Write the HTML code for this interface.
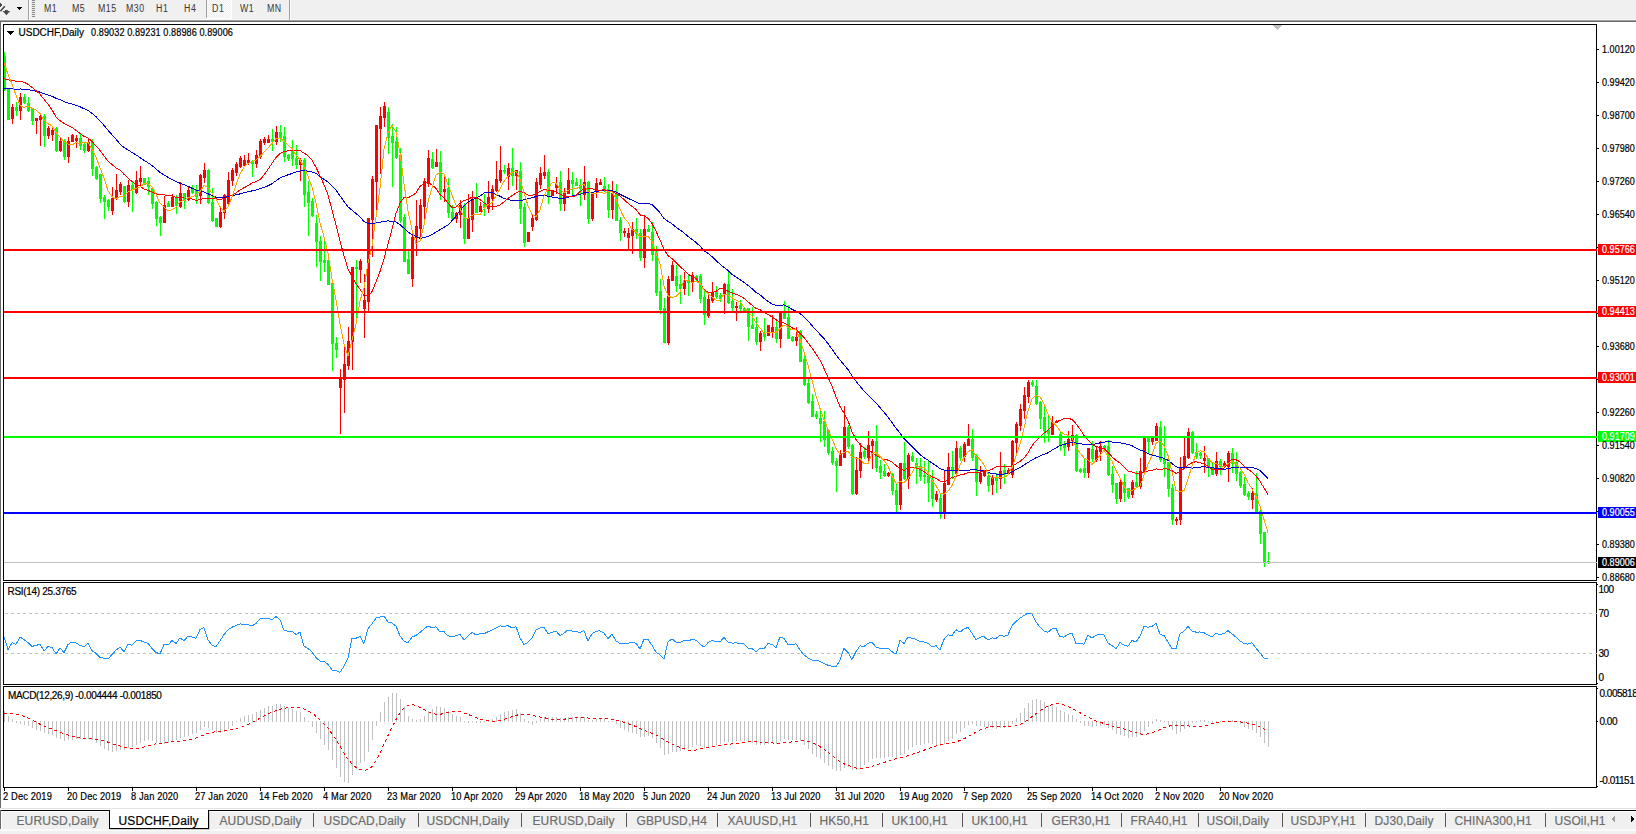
<!DOCTYPE html><html><head><meta charset="utf-8"><title>USDCHF,Daily</title><style>
*{margin:0;padding:0;box-sizing:border-box}
html,body{width:1636px;height:834px;overflow:hidden;background:#fff}
body{position:relative;font-family:"Liberation Sans",Arial,sans-serif;}
.a{position:absolute;white-space:nowrap;-webkit-text-stroke:0.2px currentColor}
.tb{font-size:11px;color:#3c3c3c;top:4px;letter-spacing:-0.2px}
.pl{font-size:9.6px;letter-spacing:-0.3px;color:#000;left:1602px;line-height:10px}
.dl{font-size:9.6px;letter-spacing:-0.25px;color:#000;top:791px;line-height:10px}
.tab{font-size:12px;color:#6e6e6e;top:812px;line-height:14px;letter-spacing:-0.1px}
svg{position:absolute;left:0;top:0}
</style></head><body><svg width="1636" height="834" viewBox="0 0 1636 834" shape-rendering="crispEdges"><rect x="0" y="0" width="1636" height="20" fill="#f0f0f0"/><rect x="0" y="19" width="1636" height="1" fill="#f7f7f7"/><rect x="0" y="20" width="1636" height="1" fill="#a0a0a0"/><rect x="0" y="21" width="1636" height="1" fill="#696969"/><rect x="28" y="0" width="1" height="20" fill="#a0a0a0"/><rect x="29" y="0" width="1" height="20" fill="#ffffff"/><rect x="32" y="0" width="3" height="1" fill="#888"/><rect x="32" y="2" width="3" height="1" fill="#888"/><rect x="32" y="4" width="3" height="1" fill="#888"/><rect x="32" y="6" width="3" height="1" fill="#888"/><rect x="32" y="8" width="3" height="1" fill="#888"/><rect x="32" y="10" width="3" height="1" fill="#888"/><rect x="32" y="12" width="3" height="1" fill="#888"/><rect x="32" y="14" width="3" height="1" fill="#888"/><rect x="32" y="16" width="3" height="1" fill="#888"/><rect x="289" y="0" width="1" height="20" fill="#a0a0a0"/><rect x="290" y="0" width="1" height="20" fill="#ffffff"/><defs><pattern id="ck" width="2" height="2" patternUnits="userSpaceOnUse"><rect width="2" height="2" fill="#ececec"/><rect width="1" height="1" fill="#fff"/><rect x="1" y="1" width="1" height="1" fill="#fff"/></pattern></defs><rect x="207" y="0" width="24" height="18" fill="url(#ck)"/><rect x="206" y="0" width="1" height="18" fill="#a0a0a0"/><rect x="231" y="0" width="1" height="19" fill="#fff"/><rect x="206" y="18" width="26" height="1" fill="#fff"/><path d="M0 2.5L3 5.2L0 7Z" fill="#4a4a4a"/><path d="M4.8 6.2L0.4 11.2" stroke="#404040" stroke-width="1.4" fill="none" shape-rendering="auto"/><path d="M5 10h2.8v1h2.4l-3.8 4.2l-3.8-4.2h2.4z" fill="#4a4a4a" shape-rendering="auto"/><path d="M17 7h5l-2.5 3z" fill="#000"/><rect x="0" y="22" width="1" height="786" fill="#6a6a6a"/><rect x="0" y="0" width="3" height="834" fill="none"/><rect x="3" y="24" width="1594" height="1" fill="#000"/><rect x="3" y="580" width="1594" height="1" fill="#000"/><rect x="3" y="24" width="1" height="557" fill="#000"/><rect x="1596" y="24" width="1" height="557" fill="#000"/><rect x="3" y="582" width="1594" height="1" fill="#000"/><rect x="3" y="684" width="1594" height="1" fill="#000"/><rect x="3" y="582" width="1" height="103" fill="#000"/><rect x="1596" y="582" width="1" height="103" fill="#000"/><rect x="3" y="686" width="1594" height="1" fill="#000"/><rect x="3" y="787" width="1594" height="1" fill="#000"/><rect x="3" y="686" width="1" height="102" fill="#000"/><rect x="1596" y="686" width="1" height="102" fill="#000"/><path d="M4 52h1v4h-1zM4 90h1v1h-1zM4 56h2v34h-2zM7 88h3v32h-3zM16 102h1v5h-1zM16 111h1v5h-1zM15 107h3v4h-3zM24 94h1v3h-1zM24 103h1v1h-1zM23 97h3v6h-3zM28 97h1v6h-1zM28 111h1v1h-1zM27 103h3v8h-3zM32 108h1v1h-1zM32 121h1v4h-1zM31 109h3v12h-3zM44 114h1v2h-1zM44 136h1v11h-1zM43 116h3v20h-3zM56 127h1v1h-1zM56 151h1v1h-1zM55 128h3v23h-3zM64 139h1v2h-1zM64 157h1v3h-1zM63 141h3v16h-3zM80 134h1v4h-1zM80 146h1v4h-1zM79 138h3v8h-3zM84 143h1v1h-1zM84 151h1v2h-1zM83 144h3v7h-3zM92 139h1v3h-1zM92 169h1v7h-1zM91 142h3v27h-3zM96 166h1v1h-1zM96 179h1v1h-1zM95 167h3v12h-3zM100 199h1v4h-1zM99 174h3v25h-3zM104 195h1v2h-1zM104 202h1v17h-1zM103 197h3v5h-3zM108 199h1v1h-1zM108 207h1v4h-1zM107 200h3v7h-3zM124 202h1v1h-1zM123 186h3v16h-3zM132 182h1v3h-1zM132 190h1v22h-1zM131 185h3v5h-3zM143 178h3v7h-3zM148 177h1v4h-1zM148 187h1v8h-1zM147 181h3v6h-3zM152 204h1v5h-1zM151 188h3v16h-3zM156 201h1v1h-1zM156 219h1v7h-1zM155 202h3v17h-3zM160 216h1v1h-1zM160 223h1v13h-1zM159 217h3v6h-3zM168 201h1v2h-1zM167 203h3v4h-3zM176 195h1v2h-1zM176 206h1v8h-1zM175 197h3v9h-3zM184 201h1v8h-1zM183 193h3v8h-3zM192 185h1v4h-1zM192 193h1v1h-1zM191 189h3v4h-3zM196 185h1v5h-1zM196 197h1v7h-1zM195 190h3v7h-3zM208 169h1v1h-1zM208 203h1v1h-1zM207 170h3v33h-3zM212 188h1v14h-1zM212 221h1v1h-1zM211 202h3v19h-3zM215 218h3v9h-3zM252 160h1v1h-1zM252 164h1v13h-1zM251 161h3v3h-3zM272 129h1v10h-1zM272 142h1v9h-1zM271 139h3v3h-3zM280 125h1v7h-1zM280 138h1v4h-1zM279 132h3v6h-3zM284 127h1v9h-1zM284 157h1v5h-1zM283 136h3v21h-3zM288 154h1v1h-1zM288 159h1v2h-1zM287 155h3v4h-3zM292 140h1v10h-1zM292 159h1v7h-1zM291 150h3v9h-3zM296 145h1v13h-1zM296 165h1v4h-1zM295 158h3v7h-3zM304 158h1v2h-1zM304 195h1v12h-1zM303 160h3v35h-3zM308 181h1v11h-1zM308 203h1v33h-1zM307 192h3v11h-3zM312 198h1v3h-1zM312 216h1v1h-1zM311 201h3v15h-3zM316 215h1v8h-1zM316 242h1v25h-1zM315 223h3v19h-3zM320 236h1v5h-1zM320 262h1v19h-1zM319 241h3v21h-3zM324 241h1v19h-1zM324 263h1v9h-1zM323 260h3v3h-3zM328 256h1v4h-1zM327 260h3v25h-3zM332 282h1v1h-1zM332 344h1v27h-1zM331 283h3v61h-3zM336 337h1v6h-1zM336 350h1v8h-1zM335 343h3v7h-3zM356 260h1v7h-1zM356 269h1v52h-1zM355 267h3v2h-3zM388 107h1v5h-1zM388 138h1v16h-1zM387 112h3v26h-3zM392 124h1v12h-1zM392 143h1v44h-1zM391 136h3v7h-3zM396 127h1v14h-1zM396 158h1v1h-1zM395 141h3v17h-3zM400 148h1v7h-1zM400 221h1v2h-1zM399 155h3v66h-3zM404 214h1v3h-1zM403 217h3v45h-3zM408 251h1v8h-1zM407 259h3v15h-3zM432 152h1v7h-1zM432 168h1v1h-1zM431 159h3v9h-3zM440 151h1v11h-1zM440 192h1v8h-1zM439 162h3v30h-3zM448 178h1v10h-1zM448 213h1v5h-1zM447 188h3v25h-3zM452 205h1v7h-1zM452 219h1v1h-1zM451 212h3v7h-3zM464 203h1v2h-1zM464 239h1v5h-1zM463 205h3v34h-3zM476 183h1v14h-1zM475 197h3v16h-3zM484 194h1v10h-1zM484 208h1v8h-1zM483 204h3v4h-3zM504 165h1v5h-1zM504 172h1v2h-1zM503 170h3v2h-3zM512 148h1v20h-1zM512 176h1v10h-1zM511 168h3v8h-3zM520 162h1v9h-1zM520 209h1v15h-1zM519 171h3v38h-3zM524 203h1v4h-1zM524 243h1v4h-1zM523 207h3v36h-3zM548 169h1v3h-1zM548 196h1v8h-1zM547 172h3v24h-3zM560 171h1v11h-1zM560 204h1v7h-1zM559 182h3v22h-3zM572 172h1v8h-1zM572 184h1v12h-1zM571 180h3v4h-3zM576 178h1v4h-1zM575 182h3v4h-3zM580 179h1v6h-1zM580 189h1v17h-1zM579 185h3v4h-3zM588 181h1v1h-1zM588 219h1v5h-1zM587 182h3v37h-3zM604 177h1v9h-1zM604 190h1v2h-1zM603 186h3v4h-3zM608 184h1v5h-1zM608 210h1v8h-1zM607 189h3v21h-3zM616 184h1v9h-1zM615 193h3v28h-3zM620 217h1v3h-1zM620 233h1v8h-1zM619 220h3v13h-3zM636 218h1v11h-1zM636 234h1v5h-1zM635 229h3v5h-3zM640 229h1v4h-1zM640 258h1v3h-1zM639 233h3v25h-3zM648 225h1v4h-1zM647 229h3v3h-3zM652 222h1v10h-1zM652 255h1v6h-1zM651 232h3v23h-3zM656 246h1v7h-1zM656 293h1v3h-1zM655 253h3v40h-3zM660 279h1v12h-1zM660 310h1v4h-1zM659 291h3v19h-3zM664 298h1v10h-1zM663 308h3v35h-3zM676 265h1v11h-1zM676 286h1v6h-1zM675 276h3v10h-3zM680 275h1v9h-1zM680 289h1v15h-1zM679 284h3v5h-3zM688 274h1v6h-1zM688 283h1v13h-1zM687 280h3v3h-3zM696 275h1v1h-1zM696 280h1v1h-1zM695 276h3v4h-3zM700 274h1v2h-1zM700 299h1v4h-1zM699 276h3v23h-3zM704 290h1v7h-1zM704 315h1v10h-1zM703 297h3v18h-3zM716 286h1v5h-1zM716 297h1v2h-1zM715 291h3v6h-3zM720 293h1v2h-1zM720 299h1v3h-1zM719 295h3v4h-3zM728 271h1v13h-1zM728 303h1v1h-1zM727 284h3v19h-3zM732 289h1v12h-1zM732 308h1v3h-1zM731 301h3v7h-3zM740 300h1v5h-1zM740 309h1v2h-1zM739 305h3v4h-3zM743 308h3v3h-3zM748 327h1v14h-1zM747 308h3v19h-3zM752 307h1v18h-1zM751 325h3v4h-3zM756 317h1v10h-1zM756 342h1v3h-1zM755 327h3v15h-3zM764 318h1v15h-1zM764 337h1v4h-1zM763 333h3v4h-3zM776 320h1v7h-1zM776 339h1v4h-1zM775 327h3v12h-3zM784 301h1v12h-1zM783 313h3v6h-3zM788 305h1v12h-1zM787 317h3v22h-3zM792 336h1v1h-1zM792 341h1v1h-1zM791 337h3v4h-3zM800 330h1v1h-1zM799 331h3v31h-3zM804 354h1v5h-1zM804 385h1v1h-1zM803 359h3v26h-3zM808 379h1v4h-1zM808 403h1v1h-1zM807 383h3v20h-3zM812 394h1v7h-1zM811 401h3v16h-3zM816 411h1v3h-1zM816 417h1v2h-1zM815 414h3v3h-3zM820 410h1v8h-1zM820 424h1v18h-1zM819 418h3v6h-3zM824 411h1v10h-1zM824 440h1v7h-1zM823 421h3v19h-3zM828 453h1v2h-1zM827 430h3v23h-3zM832 447h1v4h-1zM832 463h1v2h-1zM831 451h3v12h-3zM836 458h1v3h-1zM836 466h1v26h-1zM835 461h3v5h-3zM848 425h1v2h-1zM848 447h1v2h-1zM847 427h3v20h-3zM852 444h1v1h-1zM852 494h1v1h-1zM851 445h3v49h-3zM864 447h1v4h-1zM864 457h1v2h-1zM863 451h3v6h-3zM876 425h1v16h-1zM876 468h1v4h-1zM875 441h3v27h-3zM880 460h1v6h-1zM880 473h1v6h-1zM879 466h3v7h-3zM884 464h1v7h-1zM884 476h1v1h-1zM883 471h3v5h-3zM892 473h1v1h-1zM892 491h1v4h-1zM891 474h3v17h-3zM896 484h1v6h-1zM896 505h1v8h-1zM895 490h3v15h-3zM904 442h1v21h-1zM904 479h1v1h-1zM903 463h3v16h-3zM912 452h1v4h-1zM912 461h1v1h-1zM911 456h3v5h-3zM916 458h1v5h-1zM916 466h1v18h-1zM915 463h3v3h-3zM920 458h1v8h-1zM920 477h1v4h-1zM919 466h3v11h-3zM924 461h1v14h-1zM924 477h1v7h-1zM923 475h3v2h-3zM928 460h1v16h-1zM928 483h1v19h-1zM927 476h3v7h-3zM932 470h1v10h-1zM932 499h1v8h-1zM931 480h3v19h-3zM940 494h1v4h-1zM940 513h1v6h-1zM939 498h3v15h-3zM952 451h1v16h-1zM952 470h1v9h-1zM951 467h3v3h-3zM960 446h1v2h-1zM960 458h1v3h-1zM959 448h3v10h-3zM972 429h1v10h-1zM972 458h1v3h-1zM971 439h3v19h-3zM976 454h1v2h-1zM976 482h1v14h-1zM975 456h3v26h-3zM988 473h1v3h-1zM988 486h1v6h-1zM987 476h3v10h-3zM996 473h1v5h-1zM996 481h1v12h-1zM995 478h3v3h-3zM1004 464h1v6h-1zM1004 474h1v10h-1zM1003 470h3v4h-3zM1032 380h1v2h-1zM1032 385h1v2h-1zM1031 382h3v3h-3zM1036 380h1v6h-1zM1036 404h1v1h-1zM1035 386h3v18h-3zM1040 401h1v1h-1zM1040 419h1v10h-1zM1039 402h3v17h-3zM1044 404h1v13h-1zM1044 431h1v12h-1zM1043 417h3v14h-3zM1048 415h1v15h-1zM1048 434h1v8h-1zM1047 430h3v4h-3zM1060 431h1v3h-1zM1060 446h1v5h-1zM1059 434h3v12h-3zM1064 441h1v3h-1zM1064 448h1v8h-1zM1063 444h3v4h-3zM1076 434h1v1h-1zM1076 471h1v1h-1zM1075 435h3v36h-3zM1080 468h1v1h-1zM1080 472h1v1h-1zM1079 469h3v3h-3zM1084 459h1v9h-1zM1084 473h1v5h-1zM1083 468h3v5h-3zM1092 441h1v8h-1zM1092 459h1v3h-1zM1091 449h3v10h-3zM1104 445h1v1h-1zM1104 449h1v1h-1zM1103 446h3v3h-3zM1108 440h1v6h-1zM1108 475h1v1h-1zM1107 446h3v29h-3zM1112 466h1v8h-1zM1112 485h1v8h-1zM1111 474h3v11h-3zM1116 499h1v5h-1zM1115 483h3v16h-3zM1124 474h1v8h-1zM1124 493h1v9h-1zM1123 482h3v11h-3zM1128 497h1v2h-1zM1127 488h3v9h-3zM1136 471h1v11h-1zM1135 482h3v5h-3zM1148 442h1v11h-1zM1147 438h3v4h-3zM1160 421h1v6h-1zM1160 460h1v2h-1zM1159 427h3v33h-3zM1164 426h1v33h-1zM1164 464h1v13h-1zM1163 459h3v5h-3zM1168 489h1v8h-1zM1167 462h3v27h-3zM1172 484h1v4h-1zM1172 520h1v5h-1zM1171 488h3v32h-3zM1192 431h1v1h-1zM1192 453h1v1h-1zM1191 432h3v21h-3zM1196 443h1v9h-1zM1196 457h1v2h-1zM1195 452h3v5h-3zM1200 452h1v1h-1zM1200 456h1v3h-1zM1199 453h3v3h-3zM1208 468h1v9h-1zM1207 458h3v10h-3zM1212 462h1v5h-1zM1211 467h3v8h-3zM1220 459h1v2h-1zM1220 467h1v8h-1zM1219 461h3v6h-3zM1232 448h1v5h-1zM1232 464h1v9h-1zM1231 453h3v11h-3zM1236 452h1v10h-1zM1236 474h1v7h-1zM1235 462h3v12h-3zM1240 471h1v1h-1zM1240 486h1v2h-1zM1239 472h3v14h-3zM1244 477h1v7h-1zM1244 495h1v1h-1zM1243 484h3v11h-3zM1248 491h1v2h-1zM1248 497h1v3h-1zM1247 493h3v4h-3zM1256 473h1v20h-1zM1255 493h3v20h-3zM1260 510h1v1h-1zM1260 534h1v10h-1zM1259 511h3v23h-3zM1264 562h1v5h-1zM1263 532h3v30h-3zM1268 552h1v9h-1zM1268 563h1v1h-1zM1267 561h3v2h-3z" fill="#00ff00"/><path d="M12 104h1v3h-1zM12 119h1v5h-1zM11 107h3v12h-3zM20 93h1v4h-1zM20 111h1v9h-1zM19 97h3v14h-3zM36 121h1v13h-1zM35 118h3v3h-3zM40 114h1v2h-1zM40 120h1v26h-1zM39 116h3v4h-3zM48 126h1v2h-1zM48 136h1v3h-1zM47 128h3v8h-3zM52 127h1v3h-1zM52 135h1v6h-1zM51 130h3v5h-3zM60 138h1v3h-1zM60 151h1v1h-1zM59 141h3v10h-3zM68 137h1v4h-1zM68 157h1v6h-1zM67 141h3v16h-3zM72 134h1v1h-1zM71 135h3v7h-3zM76 135h1v3h-1zM76 141h1v7h-1zM75 138h3v3h-3zM88 139h1v3h-1zM88 151h1v1h-1zM87 142h3v9h-3zM112 187h1v11h-1zM112 211h1v4h-1zM111 198h3v13h-3zM116 174h1v16h-1zM116 199h1v1h-1zM115 190h3v9h-3zM120 182h1v2h-1zM120 192h1v3h-1zM119 184h3v8h-3zM128 180h1v5h-1zM128 202h1v5h-1zM127 185h3v17h-3zM136 171h1v9h-1zM136 193h1v1h-1zM135 180h3v13h-3zM140 166h1v12h-1zM140 182h1v4h-1zM139 178h3v4h-3zM164 196h1v9h-1zM163 205h3v18h-3zM172 194h1v3h-1zM171 197h3v10h-3zM180 182h1v11h-1zM180 207h1v1h-1zM179 193h3v14h-3zM188 187h1v3h-1zM188 200h1v1h-1zM187 190h3v10h-3zM200 174h1v1h-1zM200 196h1v8h-1zM199 175h3v21h-3zM204 163h1v7h-1zM204 178h1v5h-1zM203 170h3v8h-3zM220 207h1v5h-1zM220 227h1v1h-1zM219 212h3v15h-3zM224 194h1v1h-1zM224 213h1v6h-1zM223 195h3v18h-3zM228 172h1v8h-1zM228 204h1v1h-1zM227 180h3v24h-3zM232 168h1v2h-1zM232 181h1v5h-1zM231 170h3v11h-3zM236 162h1v2h-1zM236 173h1v3h-1zM235 164h3v9h-3zM240 156h1v2h-1zM240 167h1v1h-1zM239 158h3v9h-3zM244 155h1v5h-1zM243 160h3v6h-3zM248 153h1v7h-1zM248 163h1v2h-1zM247 160h3v3h-3zM256 150h1v5h-1zM256 164h1v4h-1zM255 155h3v9h-3zM260 139h1v2h-1zM260 157h1v2h-1zM259 141h3v16h-3zM264 137h1v2h-1zM264 143h1v2h-1zM263 139h3v4h-3zM268 135h1v4h-1zM267 139h3v4h-3zM276 126h1v6h-1zM276 142h1v3h-1zM275 132h3v10h-3zM300 158h1v2h-1zM300 165h1v16h-1zM299 160h3v5h-3zM340 369h1v10h-1zM340 388h1v46h-1zM339 379h3v9h-3zM344 346h1v18h-1zM344 380h1v33h-1zM343 364h3v16h-3zM348 327h1v14h-1zM348 366h1v4h-1zM347 341h3v25h-3zM352 342h1v28h-1zM351 267h3v75h-3zM360 259h1v2h-1zM360 270h1v13h-1zM359 261h3v9h-3zM364 274h1v26h-1zM364 309h1v29h-1zM363 300h3v9h-3zM368 302h1v11h-1zM367 218h3v84h-3zM372 176h1v3h-1zM372 220h1v37h-1zM371 179h3v41h-3zM376 182h1v33h-1zM375 125h3v57h-3zM380 107h1v9h-1zM380 129h1v45h-1zM379 116h3v13h-3zM384 102h1v4h-1zM384 118h1v9h-1zM383 106h3v12h-3zM412 235h1v2h-1zM412 279h1v8h-1zM411 237h3v42h-3zM416 200h1v26h-1zM416 238h1v18h-1zM415 226h3v12h-3zM420 199h1v6h-1zM420 229h1v10h-1zM419 205h3v24h-3zM424 178h1v3h-1zM424 207h1v12h-1zM423 181h3v26h-3zM428 150h1v8h-1zM428 184h1v3h-1zM427 158h3v26h-3zM436 149h1v13h-1zM435 162h3v5h-3zM444 175h1v14h-1zM444 192h1v10h-1zM443 189h3v3h-3zM456 212h1v1h-1zM456 219h1v4h-1zM455 213h3v6h-3zM460 200h1v5h-1zM460 215h1v13h-1zM459 205h3v10h-3zM468 194h1v24h-1zM467 218h3v21h-3zM472 191h1v8h-1zM472 220h1v12h-1zM471 199h3v21h-3zM480 202h1v4h-1zM479 206h3v6h-3zM488 181h1v16h-1zM488 209h1v4h-1zM487 197h3v12h-3zM492 185h1v4h-1zM492 199h1v11h-1zM491 189h3v10h-3zM496 161h1v18h-1zM496 191h1v1h-1zM495 179h3v12h-3zM500 146h1v24h-1zM500 181h1v2h-1zM499 170h3v11h-3zM508 163h1v5h-1zM508 177h1v13h-1zM507 168h3v9h-3zM516 176h1v14h-1zM515 170h3v6h-3zM527 232h3v10h-3zM532 215h1v3h-1zM532 227h1v4h-1zM531 218h3v9h-3zM536 178h1v4h-1zM536 220h1v1h-1zM535 182h3v38h-3zM540 167h1v6h-1zM540 185h1v4h-1zM539 173h3v12h-3zM544 155h1v17h-1zM544 176h1v3h-1zM543 172h3v4h-3zM551 190h3v6h-3zM556 177h1v7h-1zM556 188h1v6h-1zM555 184h3v4h-3zM564 188h1v5h-1zM564 204h1v7h-1zM563 193h3v11h-3zM568 168h1v12h-1zM567 180h3v14h-3zM584 166h1v16h-1zM584 195h1v5h-1zM583 182h3v13h-3zM592 192h1v1h-1zM592 219h1v2h-1zM591 193h3v26h-3zM596 178h1v5h-1zM596 191h1v7h-1zM595 183h3v8h-3zM600 179h1v3h-1zM599 182h3v3h-3zM612 181h1v12h-1zM612 210h1v9h-1zM611 193h3v17h-3zM624 228h1v3h-1zM624 233h1v4h-1zM623 231h3v2h-3zM628 228h1v5h-1zM628 238h1v12h-1zM627 233h3v5h-3zM632 222h1v7h-1zM632 236h1v18h-1zM631 229h3v7h-3zM644 217h1v12h-1zM644 258h1v10h-1zM643 229h3v29h-3zM668 276h1v3h-1zM668 343h1v2h-1zM667 279h3v64h-3zM672 261h1v4h-1zM671 265h3v16h-3zM684 272h1v8h-1zM684 289h1v6h-1zM683 280h3v9h-3zM692 272h1v3h-1zM692 282h1v10h-1zM691 275h3v7h-3zM708 293h1v6h-1zM708 316h1v2h-1zM707 299h3v17h-3zM712 282h1v10h-1zM712 301h1v2h-1zM711 292h3v9h-3zM724 283h1v1h-1zM724 294h1v20h-1zM723 284h3v10h-3zM736 302h1v4h-1zM736 308h1v13h-1zM735 306h3v2h-3zM760 331h1v2h-1zM760 342h1v9h-1zM759 333h3v9h-3zM767 325h3v11h-3zM772 315h1v12h-1zM772 332h1v6h-1zM771 327h3v5h-3zM780 339h1v9h-1zM779 313h3v26h-3zM796 327h1v10h-1zM796 341h1v5h-1zM795 337h3v4h-3zM840 450h1v3h-1zM839 453h3v13h-3zM844 406h1v21h-1zM843 427h3v31h-3zM856 457h1v13h-1zM856 494h1v1h-1zM855 470h3v24h-3zM860 443h1v9h-1zM860 471h1v7h-1zM859 452h3v19h-3zM868 431h1v14h-1zM868 458h1v4h-1zM867 445h3v13h-3zM872 439h1v2h-1zM872 446h1v23h-1zM871 441h3v5h-3zM888 472h1v1h-1zM888 476h1v1h-1zM887 473h3v3h-3zM900 505h1v5h-1zM899 463h3v42h-3zM908 453h1v2h-1zM908 479h1v10h-1zM907 455h3v24h-3zM936 491h1v3h-1zM936 500h1v2h-1zM935 494h3v6h-3zM944 470h1v13h-1zM944 513h1v6h-1zM943 483h3v30h-3zM948 453h1v14h-1zM947 467h3v18h-3zM956 441h1v7h-1zM956 474h1v3h-1zM955 448h3v26h-3zM964 442h1v2h-1zM964 457h1v5h-1zM963 444h3v13h-3zM968 424h1v15h-1zM967 439h3v7h-3zM980 466h1v7h-1zM980 482h1v2h-1zM979 473h3v9h-3zM984 476h1v1h-1zM983 470h3v6h-3zM992 475h1v3h-1zM992 485h1v10h-1zM991 478h3v7h-3zM1000 452h1v19h-1zM1000 479h1v10h-1zM999 471h3v8h-3zM1008 468h1v2h-1zM1007 470h3v4h-3zM1012 440h1v1h-1zM1012 475h1v3h-1zM1011 441h3v34h-3zM1016 422h1v2h-1zM1016 443h1v12h-1zM1015 424h3v19h-3zM1020 404h1v5h-1zM1020 426h1v5h-1zM1019 409h3v17h-3zM1024 387h1v8h-1zM1024 411h1v8h-1zM1023 395h3v16h-3zM1028 380h1v2h-1zM1028 397h1v6h-1zM1027 382h3v15h-3zM1052 416h1v6h-1zM1051 422h3v13h-3zM1056 420h1v1h-1zM1055 421h3v2h-3zM1068 431h1v8h-1zM1068 447h1v4h-1zM1067 439h3v8h-3zM1072 425h1v10h-1zM1072 441h1v5h-1zM1071 435h3v6h-3zM1088 473h1v5h-1zM1087 448h3v25h-3zM1096 447h1v3h-1zM1096 460h1v2h-1zM1095 450h3v10h-3zM1100 441h1v5h-1zM1100 452h1v9h-1zM1099 446h3v6h-3zM1120 479h1v3h-1zM1120 499h1v3h-1zM1119 482h3v17h-3zM1132 480h1v2h-1zM1132 495h1v3h-1zM1131 482h3v13h-3zM1140 458h1v13h-1zM1140 487h1v2h-1zM1139 471h3v16h-3zM1143 438h3v35h-3zM1152 437h1v1h-1zM1152 442h1v3h-1zM1151 438h3v4h-3zM1156 423h1v3h-1zM1155 426h3v15h-3zM1176 517h1v2h-1zM1176 521h1v4h-1zM1175 519h3v2h-3zM1180 457h1v10h-1zM1180 520h1v5h-1zM1179 467h3v53h-3zM1184 438h1v18h-1zM1183 456h3v12h-3zM1188 428h1v4h-1zM1188 458h1v1h-1zM1187 432h3v26h-3zM1204 446h1v12h-1zM1204 461h1v12h-1zM1203 458h3v3h-3zM1216 452h1v9h-1zM1216 474h1v2h-1zM1215 461h3v13h-3zM1224 461h1v2h-1zM1224 467h1v1h-1zM1223 463h3v4h-3zM1228 451h1v2h-1zM1228 467h1v15h-1zM1227 453h3v14h-3zM1252 488h1v5h-1zM1252 500h1v9h-1zM1251 493h3v7h-3z" fill="#ff0000"/><polyline points="4,88.1 8,88.7 12,88.9 16,89.2 20,89 24,89.1 28,89.6 32,90.4 36,91.3 40,92.1 44,93.7 48,94.9 52,96.3 56,98.2 60,99.7 64,101.6 68,103 72,104.1 76,105.3 80,106.8 84,108.7 88,110.5 92,113.3 96,116.7 100,120.9 104,125.4 108,130.2 112,134.8 116,139.3 120,143.9 124,147.6 128,149.8 132,152.5 136,154.8 140,157.6 144,160.3 148,162.8 152,165.6 156,168.9 160,172.5 164,174.8 168,177.4 172,179.6 176,181.4 180,183.2 184,184.7 188,186.3 192,188.2 196,190.2 200,191.2 204,191.9 208,193.8 212,195.6 216,197.2 220,197.6 224,197.4 228,196.6 232,195.6 236,194.8 240,193.9 244,192.6 248,191.8 252,190.9 256,190.1 260,188.8 264,187.3 268,185.8 272,183.7 276,180.8 280,178 284,176.3 288,174.8 292,173.5 296,172.1 300,171 304,170.8 308,171.1 312,171.9 316,173.4 320,176.3 324,179.3 328,182 332,186.2 336,190.2 340,195.8 344,201.4 348,206.8 352,210.1 356,213.5 360,216.9 364,221.6 368,223.5 372,224 376,223 380,222.2 384,221.1 388,221 392,221.1 396,221.9 400,224.7 404,228.2 408,232 412,234.6 416,236.7 420,238.2 424,237.8 428,236.3 432,234.7 436,232.1 440,229.7 444,227.3 448,224.9 452,220.7 456,216.2 460,210.4 464,206.2 468,202.1 472,199.8 476,198 480,196.1 484,193 488,192.3 492,192.6 496,194.4 500,196.2 504,198.4 508,199.4 512,200.5 516,201 520,200.6 524,199.9 528,198.6 532,197.9 536,196.5 540,195.4 544,195.1 548,196.3 552,197.1 556,197.8 560,198.2 564,198.4 568,197.3 572,196.1 576,195.1 580,194.6 584,192.7 588,192.7 592,192.5 596,191.6 600,190.8 604,190.2 608,190.6 612,190.7 616,192.1 620,194.2 624,196.2 628,198.3 632,200.1 636,202.2 640,203.9 644,203.5 648,203.4 652,204.6 656,208.3 660,212.8 664,218.5 668,221.3 672,223.8 676,227.2 680,230 684,232.9 688,236.3 692,239.4 696,242.5 700,246.2 704,250.6 708,253.3 712,256.6 716,260.4 720,264.2 724,267.4 728,270.5 732,274.3 736,277.1 740,279.7 744,282.3 748,285.4 752,288.7 756,292.3 760,294.8 764,298.4 768,301.5 772,304 776,305.5 780,305.6 784,304.9 788,306.8 792,309.3 796,311.1 800,313.5 804,316.9 808,320.9 812,325.6 816,330.2 820,334.3 824,338.5 828,343.6 832,349.2 836,354.9 840,360.1 844,364.8 848,369.6 852,375.8 856,381.3 860,386.1 864,391 868,394.9 872,398.7 876,402.9 880,407.5 884,412.2 888,417.1 892,422.6 896,428.1 900,433.1 904,438.4 908,442.4 912,446.4 916,450.6 920,454.5 924,457.6 928,460.2 932,463 936,465.6 940,468.6 944,470 948,470.5 952,470.8 956,470.2 960,470.4 964,470.9 968,470.7 972,469.5 976,469.8 980,470.5 984,471 988,472.4 992,473.6 996,474 1000,474 1004,474 1008,473.8 1012,472.2 1016,469.5 1020,467.7 1024,464.9 1028,462.5 1032,459.9 1036,457.8 1040,455.9 1044,454.4 1048,452.8 1052,450.2 1056,447.8 1060,445.6 1064,444.4 1068,443.4 1072,442.3 1076,443 1080,443.5 1084,444.4 1088,444.8 1092,444.8 1096,443.8 1100,442.9 1104,442.1 1108,441.8 1112,442 1116,442.6 1120,442.9 1124,443.5 1128,444.4 1132,445.8 1136,447.9 1140,450 1144,451.4 1148,453.4 1152,455.2 1156,455.9 1160,457.3 1164,458.4 1168,460.2 1172,463.5 1176,466.8 1180,467.5 1184,467.8 1188,467.6 1192,468.1 1196,467.7 1200,467.1 1204,466.7 1208,467.3 1212,467.8 1216,468.2 1220,468.8 1224,469.3 1228,468.6 1232,467.9 1236,467.1 1240,467.2 1244,467.3 1248,467.3 1252,467.6 1256,468.5 1260,470.5 1264,474.6 1268,478.7" fill="none" stroke="#0000cd" stroke-width="1" /><polyline points="4,78.7 8,79.9 12,80.4 16,81.2 20,81.4 24,82.3 28,84.2 32,87.3 36,90.6 40,94.1 44,99.3 48,104.3 52,109.7 56,117 60,120.7 64,123.3 68,125.7 72,127.5 76,130.4 80,133.4 84,136.3 88,137.9 92,141.5 96,145.9 100,150.4 104,155.7 108,161.1 112,164.5 116,168 120,170.1 124,174.3 128,177.9 132,181.6 136,184.1 140,186.1 144,189 148,190.4 152,192.1 156,193.6 160,195 164,194.9 168,195.5 172,196 176,197.4 180,196.9 184,198 188,198.1 192,199 196,200.3 200,199.7 204,198.5 208,198.5 212,198.6 216,198.9 220,199.4 224,198.7 228,197.4 232,195 236,192.9 240,189.9 244,187.8 248,185.5 252,183.1 256,181.7 260,179.6 264,175.1 268,169.3 272,163.2 276,157.5 280,153.3 284,151.7 288,150.8 292,150.3 296,150.7 300,150.6 304,153 308,155.8 312,160 316,167.2 320,175.9 324,184.7 328,194.9 332,210 336,225.2 340,241.1 344,255.8 348,268.9 352,276.3 356,284 360,288.9 364,295.8 368,296.1 372,291.6 376,281.9 380,271.5 384,258.8 388,244.1 392,229.3 396,213.4 400,203.1 404,197.4 408,197.8 412,195.5 416,193 420,186.3 424,183.6 428,182.1 432,185.1 436,188.3 440,194.4 444,198.1 448,203.2 452,207.5 456,207.1 460,203.1 464,200.6 468,199.3 472,197.3 476,197.8 480,199.5 484,203 488,205.2 492,207.1 496,206.3 500,204.9 504,202 508,198.4 512,195.6 516,193.1 520,191 524,192.7 528,195 532,195.5 536,193.8 540,191.4 544,189.6 548,190 552,190.8 556,191.8 560,194.1 564,195.8 568,196.2 572,197.1 576,195.5 580,191.7 584,188.1 588,188.1 592,188.8 596,189.6 600,190.3 604,189.8 608,191.2 612,191.9 616,193.2 620,196 624,199.6 628,203.2 632,206.3 636,209.5 640,214.9 644,215.7 648,218.4 652,223.5 656,231.3 660,239.9 664,249.4 668,255.5 672,258.7 676,262.5 680,266.6 684,270 688,273.8 692,276.8 696,278.4 700,283.3 704,289.2 708,292.4 712,292.4 716,291.4 720,288.3 724,288.7 728,291.3 732,292.9 736,294.2 740,296.1 744,298.2 748,301.8 752,305.2 756,308.3 760,309.7 764,312.3 768,314.6 772,316.9 776,319.8 780,321.9 784,323 788,325.2 792,327.7 796,329.8 800,333.4 804,337.5 808,342.8 812,348.2 816,354 820,360.3 824,368.4 828,377.3 832,386.1 836,396.9 840,406.6 844,413 848,420.6 852,431.7 856,439.5 860,444.4 864,448.2 868,450.3 872,452.2 876,455.3 880,457.7 884,459.3 888,460.1 892,461.9 896,465.6 900,468.2 904,470.5 908,467.8 912,467.1 916,468 920,469.5 924,471.7 928,474.6 932,476.8 936,478.4 940,481.1 944,481.8 948,480.1 952,477.6 956,476.5 960,475 964,474.2 968,472.6 972,472 976,472.4 980,472.2 984,471.4 988,470.5 992,469.3 996,467 1000,466.2 1004,466.6 1008,466.7 1012,466.2 1016,463.8 1020,461.3 1024,458.1 1028,452.8 1032,445.8 1036,440.8 1040,437 1044,433.1 1048,430 1052,425.9 1056,422.3 1060,420.3 1064,418.6 1068,418.5 1072,419.3 1076,423.7 1080,429.1 1084,435.5 1088,440.1 1092,444.1 1096,446.4 1100,447.5 1104,448.6 1108,452.3 1112,456.8 1116,460.5 1120,463 1124,466.8 1128,471.2 1132,472.1 1136,473.2 1140,473.1 1144,472.4 1148,471.1 1152,470.3 1156,468.9 1160,469.6 1164,468.8 1168,469.1 1172,470.7 1176,473.3 1180,471.5 1184,468.7 1188,465.1 1192,462.7 1196,461.6 1200,462.8 1204,464.1 1208,466.1 1212,469.5 1216,469.7 1220,469.9 1224,468 1228,463.3 1232,459.2 1236,459.7 1240,461.8 1244,466.2 1248,469.3 1252,472 1256,476 1260,481.3 1264,488 1268,494.4" fill="none" stroke="#ff0000" stroke-width="1" /><polyline points="4,62.9 8,74.2 12,83.9 16,95.3 20,104.9 24,107.6 28,105.8 32,108.4 36,109.9 40,113.6 44,120.2 48,123.7 52,125.8 56,132.2 60,137.2 64,141.4 68,144 72,145 76,142.5 80,143.4 84,142.2 88,142.5 92,149 96,157.2 100,167.7 104,178 108,190.7 112,196.7 116,199.1 120,196.3 124,196.2 128,192 132,190.3 136,188.3 140,187.1 144,183.7 148,184 152,186.7 156,194.3 160,203 164,207.2 168,211.1 172,209.8 176,207.2 180,201.5 184,200.6 188,197.6 192,196.7 196,195 200,191.4 204,185.4 208,187.7 212,193.2 216,199.2 220,206.5 224,211.4 228,207 232,197 236,184.7 240,174 244,167.1 248,163.3 252,161.9 256,160.1 260,156.5 264,152.2 268,147.9 272,143.4 276,138.7 280,137.8 284,141.3 288,145.2 292,148.5 296,155 300,159.6 304,167.1 308,175.8 312,187.3 316,202.8 320,223.1 324,236.7 328,253.1 332,278.7 336,300.2 340,323.7 344,344.2 348,355.6 352,340.5 356,324.4 360,300.8 364,288 368,263.3 372,245.8 376,217.2 380,188.2 384,149.4 388,133.1 392,125.6 396,131.9 400,152.7 404,183.6 408,210.8 412,229.9 416,243.7 420,240.8 424,224.9 428,201.9 432,187.9 436,175 440,172.1 444,173.7 448,184.6 452,194.9 456,205.1 460,208 464,217.8 468,219 472,215.1 476,214.8 480,214.8 484,208.7 488,204.4 492,202.5 496,195.9 500,188.7 504,181.6 508,175.8 512,172.9 516,171.2 520,178.8 524,192.9 528,205.7 532,214.4 536,216.8 540,209.9 544,195.9 548,188.4 552,182.8 556,183.1 560,189 564,193.2 568,190.2 572,188.9 576,189 580,186.1 584,184 588,191.6 592,193.6 596,193.3 600,192 604,193.4 608,191.7 612,191.7 616,199.1 620,209.2 624,217.6 628,222.3 632,229.4 636,232 640,236.9 644,236.6 648,236.2 652,241.3 656,253.1 660,263.6 664,286 668,295.7 672,297.9 676,296.4 680,292.3 684,279.9 688,280.5 692,282.5 696,281.3 700,283.2 704,290.1 708,293.6 712,296.9 716,300.2 720,300.2 724,294.1 728,294.8 732,297.8 736,299.9 740,301.8 744,307.1 748,311.8 752,315.9 756,322.8 760,328 764,333.1 768,332.9 772,332.8 776,332.4 780,328.3 784,324.9 788,327.5 792,330 796,329.7 800,339.2 804,352.3 808,365.2 812,380.3 816,396 820,408.4 824,419.4 828,429.4 832,438.6 836,448.5 840,454.6 844,452.2 848,451 852,457.3 856,458.4 860,458.2 864,463.8 868,463.7 872,453.3 876,452.6 880,456.6 884,460.5 888,466.1 892,475.9 896,483.3 900,481.6 904,482.3 908,478.8 912,472.9 916,465.1 920,467.5 924,467.1 928,472.5 932,479.9 936,485.6 940,493 944,494.2 948,491.2 952,485.5 956,476.3 960,465.2 964,457.5 968,451.9 972,449.4 976,456 980,459.3 984,464.7 988,473.9 992,478.1 996,477.8 1000,477.3 1004,477.9 1008,474.9 1012,467.5 1016,456.2 1020,443.7 1024,428.1 1028,410.6 1032,399.2 1036,395.1 1040,396.8 1044,403.9 1048,414.1 1052,421.8 1056,425.4 1060,431 1064,434.2 1068,435.3 1072,437.9 1076,447.7 1080,452.8 1084,457.9 1088,459.8 1092,464.4 1096,460.3 1100,455.4 1104,450.6 1108,455.8 1112,461 1116,470.6 1120,477.8 1124,486.6 1128,490.9 1132,490.5 1136,488.2 1140,486 1144,475.3 1148,464.2 1152,455.4 1156,443.3 1160,440.9 1164,445.9 1168,455.4 1172,471.6 1176,490.4 1180,491.9 1184,490.5 1188,479.3 1192,465.9 1196,453.2 1200,450.9 1204,451.3 1208,458.2 1212,462.5 1216,463.5 1220,465.5 1224,466.5 1228,463.7 1232,461.5 1236,463.9 1240,467.8 1244,474.1 1248,482.7 1252,488.8 1256,496.6 1260,506.1 1264,519.4 1268,532.6" fill="none" stroke="#ffa500" stroke-width="1" /><rect x="4" y="249" width="1593" height="2" fill="#ff0000"/><rect x="4" y="311" width="1593" height="2" fill="#ff0000"/><rect x="4" y="377" width="1593" height="2" fill="#ff0000"/><rect x="4" y="436" width="1593" height="2" fill="#00ff00"/><rect x="4" y="512" width="1593" height="2" fill="#0000ff"/><rect x="4" y="562" width="1593" height="1" fill="#c0c0c0"/><path d="M7 31h7l-3.5 4z" fill="#000"/><path d="M1272 25h10l-5 5z" fill="#c0c0c0"/><rect x="1597" y="49" width="2" height="1" fill="#000"/><rect x="1597" y="82" width="2" height="1" fill="#000"/><rect x="1597" y="115" width="2" height="1" fill="#000"/><rect x="1597" y="148" width="2" height="1" fill="#000"/><rect x="1597" y="181" width="2" height="1" fill="#000"/><rect x="1597" y="214" width="2" height="1" fill="#000"/><rect x="1597" y="247" width="2" height="1" fill="#000"/><rect x="1597" y="280" width="2" height="1" fill="#000"/><rect x="1597" y="313" width="2" height="1" fill="#000"/><rect x="1597" y="346" width="2" height="1" fill="#000"/><rect x="1597" y="379" width="2" height="1" fill="#000"/><rect x="1597" y="412" width="2" height="1" fill="#000"/><rect x="1597" y="445" width="2" height="1" fill="#000"/><rect x="1597" y="478" width="2" height="1" fill="#000"/><rect x="1597" y="511" width="2" height="1" fill="#000"/><rect x="1597" y="544" width="2" height="1" fill="#000"/><rect x="1597" y="577" width="2" height="1" fill="#000"/><rect x="1598" y="244" width="38" height="11" fill="#ff0000"/><rect x="1598" y="306" width="38" height="11" fill="#ff0000"/><rect x="1598" y="372" width="38" height="11" fill="#ff0000"/><rect x="1598" y="431" width="38" height="11" fill="#00ff00"/><rect x="1598" y="507" width="38" height="11" fill="#0000ff"/><rect x="1598" y="557" width="38" height="11" fill="#000000"/><path d="M5 613.5H1597" stroke="#c0c0c0" stroke-width="1" stroke-dasharray="3,3"/><path d="M5 653.5H1597" stroke="#c0c0c0" stroke-width="1" stroke-dasharray="3,3"/><rect x="1597" y="584" width="1" height="1" fill="#000"/><rect x="1597" y="683" width="1" height="1" fill="#000"/><polyline points="4,636.6 8,649.6 12,642.7 16,644.3 20,637.1 24,639.5 28,642.7 32,646.3 36,645.5 40,644.2 44,651 48,646.6 52,647.5 56,653.8 60,648.1 64,652.5 68,644.6 72,641.9 76,642.9 80,645.4 84,646.9 88,643 92,650.7 96,653.4 100,657.5 104,658.2 108,659.1 112,654.5 116,650.2 120,647.1 124,651.7 128,644 132,645.3 136,641 140,640.3 144,642.1 148,643.2 152,648.6 156,652.6 160,653.7 164,644.6 168,644.9 172,640.6 176,643.4 180,638 184,640.6 188,636.1 192,637 196,638.4 200,629.5 204,627.6 208,639.9 212,645 216,646.7 220,640.8 224,634.6 228,629.9 232,627.2 236,625.6 240,623.9 244,624.7 248,624.7 252,626.1 256,623.4 260,618.9 264,618.3 268,618.3 272,619.6 276,616.6 280,619.7 284,630.3 288,631.4 292,631.1 296,634.4 300,632.2 304,646 308,648.5 312,652 316,657.7 320,661 324,661.1 328,664.4 332,670 336,670.4 340,672.3 344,666.2 348,657.7 352,638 356,638.2 360,636.6 364,643.4 368,628.8 372,623.7 376,618 380,617.1 384,616.1 388,622.1 392,623.1 396,626 400,636 404,641.2 408,642.7 412,637 416,635.4 420,632.3 424,629 428,626 432,627.6 436,626.9 440,632 444,631.7 448,635.8 452,636.7 456,635.8 460,634.2 464,640.1 468,636.1 472,632.4 476,634.9 480,633.6 484,633.9 488,631.7 492,630 496,627.9 500,625.9 504,626.4 508,625.7 512,627.8 516,626.7 520,637.7 524,644.9 528,642.2 532,638.2 536,629.8 540,627.9 544,627.6 548,633.6 552,632.4 556,630.9 560,635.9 564,633.2 568,629.9 572,631 576,631.4 580,632.6 584,630.7 588,641 592,633.8 596,631.2 600,630.8 604,633 608,638.7 612,634 616,640.9 620,643.4 624,643 628,643.5 632,642 636,643.2 640,648.9 644,639.2 648,639.6 652,645.3 656,652.2 660,654.8 664,659 668,641.8 672,638.9 676,642.1 680,642.7 684,640.7 688,641 692,639.4 696,640.2 700,644 704,647.2 708,642.6 712,640.6 716,641.4 720,641.9 724,637.5 728,642.1 732,643.1 736,642.9 740,643.2 744,644 748,648 752,648.5 756,651.7 760,648.2 764,648.8 768,643.7 772,644.4 776,647.8 780,636.9 784,638.5 788,644.4 792,645 796,643.7 800,650.1 804,654.9 808,658 812,660.1 816,660.1 820,661.2 824,663.6 828,665.2 832,666.3 836,666.7 840,660.4 844,648.4 848,652.3 852,659.4 856,651.6 860,645.8 864,646.5 868,643.3 872,642 876,647.3 880,648.2 884,648.8 888,648.2 892,651.6 896,654.2 900,640.2 904,643.4 908,637.1 912,638.2 916,639.4 920,641.7 924,642 928,643.3 932,646.9 936,645.7 940,649.7 944,639.4 948,634.8 952,635.4 956,629.7 960,632.2 964,628.8 968,627.5 972,633.1 976,639.6 980,637.2 984,636.4 988,640.2 992,637.9 996,638.5 1000,635.5 1004,636.2 1008,634.9 1012,625.7 1016,621.4 1020,618.2 1024,615.5 1028,613.1 1032,613.7 1036,621.8 1040,627 1044,631.2 1048,632.2 1052,628.9 1056,628.5 1060,636.7 1064,637.1 1068,634.3 1072,633.1 1076,643.5 1080,643.7 1084,644.1 1088,635.2 1092,638.2 1096,635.3 1100,634 1104,634.7 1108,643 1112,645.6 1116,648.9 1120,642.5 1124,645.1 1128,646.2 1132,640.5 1136,641.8 1140,636.1 1144,626.3 1148,627.3 1152,626.5 1156,623.2 1160,634.3 1164,635.6 1168,642.2 1172,648.6 1176,648.6 1180,633.6 1184,631.2 1188,626.3 1192,631.3 1196,632.1 1200,632 1204,632.7 1208,635.1 1212,636.9 1216,633.2 1220,634.6 1224,633.6 1228,630.7 1232,633.9 1236,637.1 1240,640.9 1244,643.5 1248,644.1 1252,642.8 1256,648.1 1260,653 1264,658.2 1268,658.5" fill="none" stroke="#1e90ff" stroke-width="1"/><path d="M4 711h1v11h-1zM8 716h1v6h-1zM12 719h1v3h-1zM16 721h1v2h-1zM20 721h1v3h-1zM24 721h1v4h-1zM28 721h1v5h-1zM32 721h1v7h-1zM36 721h1v9h-1zM40 721h1v10h-1zM44 721h1v12h-1zM48 721h1v13h-1zM52 721h1v14h-1zM56 721h1v17h-1zM60 721h1v18h-1zM64 721h1v20h-1zM68 721h1v19h-1zM72 721h1v19h-1zM76 721h1v18h-1zM80 721h1v18h-1zM84 721h1v18h-1zM88 721h1v18h-1zM92 721h1v19h-1zM96 721h1v22h-1zM100 721h1v25h-1zM104 721h1v28h-1zM108 721h1v30h-1zM112 721h1v31h-1zM116 721h1v30h-1zM120 721h1v29h-1zM124 721h1v29h-1zM128 721h1v27h-1zM132 721h1v26h-1zM136 721h1v24h-1zM140 721h1v22h-1zM144 721h1v20h-1zM148 721h1v19h-1zM152 721h1v20h-1zM156 721h1v22h-1zM160 721h1v23h-1zM164 721h1v23h-1zM168 721h1v22h-1zM172 721h1v20h-1zM176 721h1v19h-1zM180 721h1v17h-1zM184 721h1v16h-1zM188 721h1v15h-1zM192 721h1v13h-1zM196 721h1v12h-1zM200 721h1v9h-1zM204 721h1v6h-1zM208 721h1v7h-1zM212 721h1v9h-1zM216 721h1v12h-1zM220 721h1v12h-1zM224 721h1v11h-1zM228 721h1v8h-1zM232 721h1v5h-1zM236 721h1v1h-1zM240 718h1v4h-1zM244 716h1v6h-1zM248 715h1v7h-1zM252 714h1v8h-1zM256 712h1v10h-1zM260 710h1v12h-1zM264 708h1v14h-1zM268 706h1v16h-1zM272 706h1v16h-1zM276 704h1v18h-1zM280 704h1v18h-1zM284 706h1v16h-1zM288 708h1v14h-1zM292 709h1v13h-1zM296 711h1v11h-1zM300 712h1v10h-1zM304 717h1v5h-1zM308 721h1v1h-1zM312 721h1v6h-1zM316 721h1v12h-1zM320 721h1v18h-1zM324 721h1v24h-1zM328 721h1v29h-1zM332 721h1v39h-1zM336 721h1v47h-1zM340 721h1v56h-1zM344 721h1v61h-1zM348 721h1v62h-1zM352 721h1v54h-1zM356 721h1v48h-1zM360 721h1v42h-1zM364 721h1v40h-1zM368 721h1v31h-1zM372 721h1v19h-1zM376 721h1v5h-1zM380 712h1v10h-1zM384 702h1v20h-1zM388 697h1v25h-1zM392 693h1v29h-1zM396 693h1v29h-1zM400 699h1v23h-1zM404 707h1v15h-1zM408 716h1v6h-1zM412 719h1v3h-1zM416 720h1v2h-1zM420 719h1v3h-1zM424 716h1v6h-1zM428 711h1v11h-1zM432 709h1v13h-1zM436 706h1v16h-1zM440 707h1v15h-1zM444 708h1v14h-1zM448 711h1v11h-1zM452 714h1v8h-1zM456 716h1v6h-1zM460 717h1v5h-1zM464 721h1v1h-1zM468 721h1v2h-1zM472 721h1v1h-1zM476 721h1v2h-1zM480 721h1v2h-1zM484 721h1v1h-1zM488 720h1v2h-1zM492 719h1v3h-1zM496 717h1v5h-1zM500 714h1v8h-1zM504 712h1v10h-1zM508 711h1v11h-1zM512 710h1v12h-1zM516 709h1v13h-1zM520 713h1v9h-1zM524 719h1v3h-1zM528 721h1v2h-1zM532 721h1v4h-1zM536 721h1v2h-1zM540 719h1v3h-1zM544 717h1v5h-1zM548 717h1v5h-1zM552 717h1v5h-1zM556 717h1v5h-1zM560 718h1v4h-1zM564 718h1v4h-1zM568 717h1v5h-1zM572 717h1v5h-1zM576 717h1v5h-1zM580 717h1v5h-1zM584 717h1v5h-1zM588 720h1v2h-1zM592 720h1v2h-1zM596 719h1v3h-1zM600 718h1v4h-1zM604 718h1v4h-1zM608 721h1v1h-1zM612 721h1v1h-1zM616 721h1v3h-1zM620 721h1v7h-1zM624 721h1v9h-1zM628 721h1v11h-1zM632 721h1v12h-1zM636 721h1v13h-1zM640 721h1v16h-1zM644 721h1v16h-1zM648 721h1v15h-1zM652 721h1v17h-1zM656 721h1v22h-1zM660 721h1v27h-1zM664 721h1v34h-1zM668 721h1v33h-1zM672 721h1v31h-1zM676 721h1v31h-1zM680 721h1v30h-1zM684 721h1v29h-1zM688 721h1v28h-1zM692 721h1v26h-1zM696 721h1v24h-1zM700 721h1v25h-1zM704 721h1v27h-1zM708 721h1v26h-1zM712 721h1v25h-1zM716 721h1v24h-1zM720 721h1v23h-1zM724 721h1v21h-1zM728 721h1v21h-1zM732 721h1v21h-1zM736 721h1v20h-1zM740 721h1v20h-1zM744 721h1v20h-1zM748 721h1v21h-1zM752 721h1v22h-1zM756 721h1v24h-1zM760 721h1v24h-1zM764 721h1v24h-1zM768 721h1v23h-1zM772 721h1v22h-1zM776 721h1v23h-1zM780 721h1v20h-1zM784 721h1v18h-1zM788 721h1v19h-1zM792 721h1v19h-1zM796 721h1v19h-1zM800 721h1v20h-1zM804 721h1v24h-1zM808 721h1v28h-1zM812 721h1v33h-1zM816 721h1v36h-1zM820 721h1v38h-1zM824 721h1v42h-1zM828 721h1v45h-1zM832 721h1v48h-1zM836 721h1v50h-1zM840 721h1v50h-1zM844 721h1v47h-1zM848 721h1v46h-1zM852 721h1v49h-1zM856 721h1v49h-1zM860 721h1v47h-1zM864 721h1v44h-1zM868 721h1v41h-1zM872 721h1v38h-1zM876 721h1v37h-1zM880 721h1v37h-1zM884 721h1v37h-1zM888 721h1v36h-1zM892 721h1v36h-1zM896 721h1v38h-1zM900 721h1v34h-1zM904 721h1v33h-1zM908 721h1v29h-1zM912 721h1v26h-1zM916 721h1v24h-1zM920 721h1v24h-1zM924 721h1v23h-1zM928 721h1v22h-1zM932 721h1v23h-1zM936 721h1v24h-1zM940 721h1v25h-1zM944 721h1v23h-1zM948 721h1v20h-1zM952 721h1v18h-1zM956 721h1v13h-1zM960 721h1v11h-1zM964 721h1v7h-1zM968 721h1v4h-1zM972 721h1v3h-1zM976 721h1v5h-1zM980 721h1v5h-1zM984 721h1v6h-1zM988 721h1v7h-1zM992 721h1v7h-1zM996 721h1v8h-1zM1000 721h1v7h-1zM1004 721h1v7h-1zM1008 721h1v6h-1zM1012 721h1v3h-1zM1016 718h1v4h-1zM1020 713h1v9h-1zM1024 708h1v14h-1zM1028 703h1v19h-1zM1032 700h1v22h-1zM1036 699h1v23h-1zM1040 700h1v22h-1zM1044 702h1v20h-1zM1048 705h1v17h-1zM1052 706h1v16h-1zM1056 707h1v15h-1zM1060 710h1v12h-1zM1064 712h1v10h-1zM1068 714h1v8h-1zM1072 715h1v7h-1zM1076 719h1v3h-1zM1080 721h1v2h-1zM1084 721h1v5h-1zM1088 721h1v5h-1zM1092 721h1v6h-1zM1096 721h1v5h-1zM1100 721h1v5h-1zM1104 721h1v4h-1zM1108 721h1v7h-1zM1112 721h1v9h-1zM1116 721h1v13h-1zM1120 721h1v14h-1zM1124 721h1v15h-1zM1128 721h1v17h-1zM1132 721h1v16h-1zM1136 721h1v16h-1zM1140 721h1v14h-1zM1144 721h1v10h-1zM1148 721h1v6h-1zM1152 721h1v3h-1zM1156 719h1v3h-1zM1160 720h1v2h-1zM1164 721h1v1h-1zM1168 721h1v4h-1zM1172 721h1v9h-1zM1176 721h1v13h-1zM1180 721h1v11h-1zM1184 721h1v8h-1zM1188 721h1v4h-1zM1192 721h1v2h-1zM1196 721h1v1h-1zM1200 720h1v2h-1zM1204 720h1v2h-1zM1208 721h1v1h-1zM1212 721h1v2h-1zM1216 721h1v1h-1zM1220 721h1v1h-1zM1224 721h1v1h-1zM1228 720h1v2h-1zM1232 720h1v2h-1zM1236 721h1v1h-1zM1240 721h1v3h-1zM1244 721h1v6h-1zM1248 721h1v8h-1zM1252 721h1v9h-1zM1256 721h1v12h-1zM1260 721h1v16h-1zM1264 721h1v22h-1zM1268 721h1v26h-1z" fill="#c0c0c0"/><polyline points="4,714 8,713.6 12,713.7 16,714.3 20,715.2 24,716.4 28,717.9 32,719.9 36,722.2 40,724.3 44,726.1 48,727.7 52,729 56,730.6 60,732.2 64,733.7 68,735.1 72,736.1 76,737.1 80,737.7 84,738.3 88,738.7 92,739 96,739.4 100,740 104,740.9 108,742.2 112,743.6 116,744.9 120,746.1 124,747.3 128,748.2 132,748.7 136,748.6 140,748 144,746.9 148,745.7 152,744.6 156,743.8 160,743.2 164,742.7 168,742.2 172,741.8 176,741.5 180,741.2 184,740.8 188,740.2 192,739.2 196,738 200,736.5 204,734.8 208,733.4 212,732.3 216,731.6 220,731.1 224,730.7 228,730.1 232,729.3 236,728.4 240,727.5 244,726.3 248,724.7 252,722.7 256,720.4 260,718.1 264,715.9 268,713.9 272,712.2 276,710.6 280,709.3 284,708.3 288,707.7 292,707.3 296,707.5 300,708 304,709.1 308,710.8 312,713.2 316,716.3 320,719.9 324,723.8 328,728.3 332,733.7 336,739.8 340,746.4 344,753 348,759.2 352,764 356,767.3 360,769.3 364,770.5 368,769.6 372,766.5 376,760.7 380,753.1 384,744.2 388,735.6 392,727.3 396,719.6 400,712.7 404,707.9 408,705.2 412,704.6 416,705.5 420,707.4 424,709.6 428,711.6 432,713.4 436,714.3 440,714.3 444,713.5 448,712.6 452,712 456,711.7 460,711.8 464,712.9 468,714.4 472,716.1 476,717.7 480,719.2 484,720.3 488,720.9 492,721.2 496,721.1 500,720.3 504,719.2 508,718 512,716.7 516,715.4 520,714.4 524,714.2 528,714.6 532,715.4 536,716.3 540,717 544,717.7 548,718.5 552,719.4 556,719.8 560,719.7 564,719.3 568,718.5 572,718 576,717.7 580,717.8 584,717.7 588,718 592,718.3 596,718.4 600,718.4 604,718.6 608,719 612,719.4 616,720.2 620,721.3 624,722.3 628,723.6 632,725 636,726.6 640,728.6 644,730.3 648,731.9 652,733.4 656,735.1 660,737.2 664,739.8 668,742.1 672,744.1 676,745.7 680,747.3 684,748.8 688,750 692,750.4 696,750 700,749 704,748.2 708,747.7 712,747 716,746.3 720,745.7 724,744.9 728,744.3 732,743.9 736,743.5 740,742.8 744,742.1 748,741.7 752,741.5 756,741.6 760,742 764,742.4 768,742.7 772,742.9 776,743.2 780,743.2 784,742.8 788,742.4 792,741.9 796,741.2 800,740.8 804,740.9 808,741.5 812,742.6 816,744.4 820,746.6 824,749.2 828,752.1 832,755.4 836,758.7 840,761.6 844,763.8 848,765.3 852,766.8 856,768 860,768.5 864,768.4 868,767.7 872,766.3 876,764.9 880,763.7 884,762.6 888,761.1 892,759.7 896,758.7 900,757.6 904,756.7 908,755.7 912,754.5 916,753.1 920,751.7 924,750.2 928,748.7 932,747.1 936,745.9 940,745 944,744.4 948,743.7 952,742.9 956,741.8 960,740.5 964,738.8 968,736.6 972,734.4 976,732.1 980,730.1 984,728.5 988,727.4 992,726.7 996,726.4 1000,726.3 1004,726.6 1008,727 1012,726.7 1016,725.9 1020,724.6 1024,722.5 1028,719.8 1032,716.7 1036,713.6 1040,710.6 1044,708 1048,706 1052,704.6 1056,703.9 1060,704 1064,705 1068,706.6 1072,708.4 1076,710.5 1080,712.7 1084,714.9 1088,717 1092,719.2 1096,720.9 1100,722.3 1104,723.4 1108,724.7 1112,725.9 1116,727 1120,727.9 1124,729.1 1128,730.3 1132,731.5 1136,732.8 1140,733.9 1144,734.2 1148,733.9 1152,732.8 1156,731.2 1160,729.5 1164,727.7 1168,726.3 1172,725.5 1176,725.4 1180,725.6 1184,725.8 1188,725.9 1192,726.2 1196,726.3 1200,726.3 1204,725.9 1208,725 1212,723.7 1216,722.6 1220,721.8 1224,721.6 1228,721.4 1232,721.3 1236,721.4 1240,721.8 1244,722.4 1248,723.1 1252,724 1256,725.2 1260,726.8 1264,729.2 1268,732.1" fill="none" stroke="#ff0000" stroke-width="1" stroke-dasharray="3,3"/><rect x="1597" y="688" width="1" height="1" fill="#000"/><rect x="1597" y="721" width="1" height="1" fill="#000"/><rect x="1597" y="786" width="1" height="1" fill="#000"/><rect x="4" y="788" width="1" height="3" fill="#000"/><rect x="68" y="788" width="1" height="3" fill="#000"/><rect x="132" y="788" width="1" height="3" fill="#000"/><rect x="196" y="788" width="1" height="3" fill="#000"/><rect x="260" y="788" width="1" height="3" fill="#000"/><rect x="324" y="788" width="1" height="3" fill="#000"/><rect x="388" y="788" width="1" height="3" fill="#000"/><rect x="452" y="788" width="1" height="3" fill="#000"/><rect x="516" y="788" width="1" height="3" fill="#000"/><rect x="580" y="788" width="1" height="3" fill="#000"/><rect x="644" y="788" width="1" height="3" fill="#000"/><rect x="708" y="788" width="1" height="3" fill="#000"/><rect x="772" y="788" width="1" height="3" fill="#000"/><rect x="836" y="788" width="1" height="3" fill="#000"/><rect x="900" y="788" width="1" height="3" fill="#000"/><rect x="964" y="788" width="1" height="3" fill="#000"/><rect x="1028" y="788" width="1" height="3" fill="#000"/><rect x="1092" y="788" width="1" height="3" fill="#000"/><rect x="1156" y="788" width="1" height="3" fill="#000"/><rect x="1220" y="788" width="1" height="3" fill="#000"/><rect x="0" y="808" width="1636" height="26" fill="#f0f0f0"/><rect x="0" y="808" width="1636" height="1" fill="#e3e3e3"/><rect x="0" y="809" width="1636" height="1" fill="#ffffff"/><rect x="0" y="810" width="1636" height="1" fill="#000"/><rect x="1" y="811" width="1635" height="1" fill="#ffffff"/><rect x="0" y="810" width="1" height="19" fill="#6a6a6a"/><rect x="1" y="811" width="1" height="18" fill="#ffffff"/><rect x="0" y="829" width="1636" height="2" fill="#fafafa"/><rect x="109" y="809" width="100" height="20" fill="#fff"/><rect x="109" y="810" width="1" height="19" fill="#000"/><rect x="208" y="810" width="1" height="19" fill="#000"/><rect x="109" y="828" width="100" height="1" fill="#000"/><rect x="209" y="812" width="1" height="17" fill="#c8c8c8"/><rect x="110" y="829" width="100" height="1" fill="#d0d0d0"/><rect x="313" y="813" width="1" height="14" fill="#5a5a5a"/><rect x="418" y="813" width="1" height="14" fill="#5a5a5a"/><rect x="521" y="813" width="1" height="14" fill="#5a5a5a"/><rect x="626" y="813" width="1" height="14" fill="#5a5a5a"/><rect x="717" y="813" width="1" height="14" fill="#5a5a5a"/><rect x="810" y="813" width="1" height="14" fill="#5a5a5a"/><rect x="882" y="813" width="1" height="14" fill="#5a5a5a"/><rect x="962" y="813" width="1" height="14" fill="#5a5a5a"/><rect x="1041" y="813" width="1" height="14" fill="#5a5a5a"/><rect x="1121" y="813" width="1" height="14" fill="#5a5a5a"/><rect x="1198" y="813" width="1" height="14" fill="#5a5a5a"/><rect x="1282" y="813" width="1" height="14" fill="#5a5a5a"/><rect x="1365" y="813" width="1" height="14" fill="#5a5a5a"/><rect x="1445" y="813" width="1" height="14" fill="#5a5a5a"/><rect x="1545" y="813" width="1" height="14" fill="#5a5a5a"/><path d="M1615 816v6l-3.5 -3z" fill="#a0a0a0"/><path d="M1631 816v6l3.5 -3z" fill="#000"/></svg><div class="a" style="left:44px;top:4px;font-size:10px;line-height:10px;letter-spacing:0.6px;color:#383838;-webkit-text-stroke:0;transform:scaleX(0.88);transform-origin:0 0">M1</div><div class="a" style="left:71.5px;top:4px;font-size:10px;line-height:10px;letter-spacing:0.6px;color:#383838;-webkit-text-stroke:0;transform:scaleX(0.88);transform-origin:0 0">M5</div><div class="a" style="left:97.5px;top:4px;font-size:10px;line-height:10px;letter-spacing:0.6px;color:#383838;-webkit-text-stroke:0;transform:scaleX(0.88);transform-origin:0 0">M15</div><div class="a" style="left:125.5px;top:4px;font-size:10px;line-height:10px;letter-spacing:0.6px;color:#383838;-webkit-text-stroke:0;transform:scaleX(0.88);transform-origin:0 0">M30</div><div class="a" style="left:156px;top:4px;font-size:10px;line-height:10px;letter-spacing:0.6px;color:#383838;-webkit-text-stroke:0;transform:scaleX(0.88);transform-origin:0 0">H1</div><div class="a" style="left:183.5px;top:4px;font-size:10px;line-height:10px;letter-spacing:0.6px;color:#383838;-webkit-text-stroke:0;transform:scaleX(0.88);transform-origin:0 0">H4</div><div class="a" style="left:212px;top:4px;font-size:10px;line-height:10px;letter-spacing:0.6px;color:#383838;-webkit-text-stroke:0;transform:scaleX(0.88);transform-origin:0 0">D1</div><div class="a" style="left:239.5px;top:4px;font-size:10px;line-height:10px;letter-spacing:0.6px;color:#383838;-webkit-text-stroke:0;transform:scaleX(0.88);transform-origin:0 0">W1</div><div class="a" style="left:266.5px;top:4px;font-size:10px;line-height:10px;letter-spacing:0.6px;color:#383838;-webkit-text-stroke:0;transform:scaleX(0.88);transform-origin:0 0">MN</div><div class="a" style="left:18.5px;top:28px;font-size:10px;line-height:10px;letter-spacing:0px;color:#000">USDCHF,Daily</div><div class="a" style="left:90.5px;top:28px;font-size:10px;line-height:10px;letter-spacing:0.1px;color:#000;transform:scaleX(0.91);transform-origin:0 0">0.89032 0.89231 0.88986 0.89006</div><div class="a" style="left:1601.5px;top:45px;font-size:10px;line-height:10px;letter-spacing:0.05px;color:#000;transform:scaleX(0.9);transform-origin:0 0">1.00120</div><div class="a" style="left:1601.5px;top:78px;font-size:10px;line-height:10px;letter-spacing:0.05px;color:#000;transform:scaleX(0.9);transform-origin:0 0">0.99420</div><div class="a" style="left:1601.5px;top:111px;font-size:10px;line-height:10px;letter-spacing:0.05px;color:#000;transform:scaleX(0.9);transform-origin:0 0">0.98700</div><div class="a" style="left:1601.5px;top:144px;font-size:10px;line-height:10px;letter-spacing:0.05px;color:#000;transform:scaleX(0.9);transform-origin:0 0">0.97980</div><div class="a" style="left:1601.5px;top:177px;font-size:10px;line-height:10px;letter-spacing:0.05px;color:#000;transform:scaleX(0.9);transform-origin:0 0">0.97260</div><div class="a" style="left:1601.5px;top:210px;font-size:10px;line-height:10px;letter-spacing:0.05px;color:#000;transform:scaleX(0.9);transform-origin:0 0">0.96540</div><div class="a" style="left:1601.5px;top:276px;font-size:10px;line-height:10px;letter-spacing:0.05px;color:#000;transform:scaleX(0.9);transform-origin:0 0">0.95120</div><div class="a" style="left:1601.5px;top:342px;font-size:10px;line-height:10px;letter-spacing:0.05px;color:#000;transform:scaleX(0.9);transform-origin:0 0">0.93680</div><div class="a" style="left:1601.5px;top:408px;font-size:10px;line-height:10px;letter-spacing:0.05px;color:#000;transform:scaleX(0.9);transform-origin:0 0">0.92260</div><div class="a" style="left:1601.5px;top:441px;font-size:10px;line-height:10px;letter-spacing:0.05px;color:#000;transform:scaleX(0.9);transform-origin:0 0">0.91540</div><div class="a" style="left:1601.5px;top:474px;font-size:10px;line-height:10px;letter-spacing:0.05px;color:#000;transform:scaleX(0.9);transform-origin:0 0">0.90820</div><div class="a" style="left:1601.5px;top:540px;font-size:10px;line-height:10px;letter-spacing:0.05px;color:#000;transform:scaleX(0.9);transform-origin:0 0">0.89380</div><div class="a" style="left:1601.5px;top:573px;font-size:10px;line-height:10px;letter-spacing:0.05px;color:#000;transform:scaleX(0.9);transform-origin:0 0">0.88680</div><div class="a" style="left:1601.5px;top:245px;font-size:10px;line-height:10px;letter-spacing:0.05px;color:#fff;transform:scaleX(0.9);transform-origin:0 0">0.95766</div><div class="a" style="left:1601.5px;top:307px;font-size:10px;line-height:10px;letter-spacing:0.05px;color:#fff;transform:scaleX(0.9);transform-origin:0 0">0.94413</div><div class="a" style="left:1601.5px;top:373px;font-size:10px;line-height:10px;letter-spacing:0.05px;color:#fff;transform:scaleX(0.9);transform-origin:0 0">0.93001</div><div class="a" style="left:1601.5px;top:432px;font-size:10px;line-height:10px;letter-spacing:0.05px;color:#fff;transform:scaleX(0.9);transform-origin:0 0">0.91709</div><div class="a" style="left:1601.5px;top:508px;font-size:10px;line-height:10px;letter-spacing:0.05px;color:#fff;transform:scaleX(0.9);transform-origin:0 0">0.90055</div><div class="a" style="left:1601.5px;top:558px;font-size:10px;line-height:10px;letter-spacing:0.05px;color:#fff;transform:scaleX(0.9);transform-origin:0 0">0.89006</div><div class="a" style="left:7.5px;top:587px;font-size:10px;line-height:10px;letter-spacing:-0.3px;color:#000">RSI(14) 25.3765</div><div class="a" style="left:1598.5px;top:585px;font-size:10px;line-height:10px;letter-spacing:-0.5px;color:#000">100</div><div class="a" style="left:1598.5px;top:609px;font-size:10px;line-height:10px;letter-spacing:-0.5px;color:#000">70</div><div class="a" style="left:1598.5px;top:649px;font-size:10px;line-height:10px;letter-spacing:-0.5px;color:#000">30</div><div class="a" style="left:1598.5px;top:673px;font-size:10px;line-height:10px;letter-spacing:-0.5px;color:#000">0</div><div class="a" style="left:8px;top:691px;font-size:10px;line-height:10px;letter-spacing:-0.35px;color:#000">MACD(12,26,9) -0.004444 -0.001850</div><div class="a" style="left:1599.5px;top:689px;font-size:10px;line-height:10px;letter-spacing:-0.5px;color:#000">0.005818</div><div class="a" style="left:1599.5px;top:717px;font-size:10px;line-height:10px;letter-spacing:-0.5px;color:#000">0.00</div><div class="a" style="left:1599.5px;top:776px;font-size:10px;line-height:10px;letter-spacing:-0.5px;color:#000">-0.01151</div><div class="a" style="left:3px;top:792px;font-size:10px;line-height:10px;letter-spacing:0.15px;color:#000;transform:scaleX(0.93);transform-origin:0 0">2 Dec 2019</div><div class="a" style="left:67px;top:792px;font-size:10px;line-height:10px;letter-spacing:0.15px;color:#000;transform:scaleX(0.93);transform-origin:0 0">20 Dec 2019</div><div class="a" style="left:131px;top:792px;font-size:10px;line-height:10px;letter-spacing:0.15px;color:#000;transform:scaleX(0.93);transform-origin:0 0">8 Jan 2020</div><div class="a" style="left:195px;top:792px;font-size:10px;line-height:10px;letter-spacing:0.15px;color:#000;transform:scaleX(0.93);transform-origin:0 0">27 Jan 2020</div><div class="a" style="left:259px;top:792px;font-size:10px;line-height:10px;letter-spacing:0.15px;color:#000;transform:scaleX(0.93);transform-origin:0 0">14 Feb 2020</div><div class="a" style="left:323px;top:792px;font-size:10px;line-height:10px;letter-spacing:0.15px;color:#000;transform:scaleX(0.93);transform-origin:0 0">4 Mar 2020</div><div class="a" style="left:387px;top:792px;font-size:10px;line-height:10px;letter-spacing:0.15px;color:#000;transform:scaleX(0.93);transform-origin:0 0">23 Mar 2020</div><div class="a" style="left:451px;top:792px;font-size:10px;line-height:10px;letter-spacing:0.15px;color:#000;transform:scaleX(0.93);transform-origin:0 0">10 Apr 2020</div><div class="a" style="left:515px;top:792px;font-size:10px;line-height:10px;letter-spacing:0.15px;color:#000;transform:scaleX(0.93);transform-origin:0 0">29 Apr 2020</div><div class="a" style="left:579px;top:792px;font-size:10px;line-height:10px;letter-spacing:0.15px;color:#000;transform:scaleX(0.93);transform-origin:0 0">18 May 2020</div><div class="a" style="left:643px;top:792px;font-size:10px;line-height:10px;letter-spacing:0.15px;color:#000;transform:scaleX(0.93);transform-origin:0 0">5 Jun 2020</div><div class="a" style="left:707px;top:792px;font-size:10px;line-height:10px;letter-spacing:0.15px;color:#000;transform:scaleX(0.93);transform-origin:0 0">24 Jun 2020</div><div class="a" style="left:771px;top:792px;font-size:10px;line-height:10px;letter-spacing:0.15px;color:#000;transform:scaleX(0.93);transform-origin:0 0">13 Jul 2020</div><div class="a" style="left:835px;top:792px;font-size:10px;line-height:10px;letter-spacing:0.15px;color:#000;transform:scaleX(0.93);transform-origin:0 0">31 Jul 2020</div><div class="a" style="left:899px;top:792px;font-size:10px;line-height:10px;letter-spacing:0.15px;color:#000;transform:scaleX(0.93);transform-origin:0 0">19 Aug 2020</div><div class="a" style="left:963px;top:792px;font-size:10px;line-height:10px;letter-spacing:0.15px;color:#000;transform:scaleX(0.93);transform-origin:0 0">7 Sep 2020</div><div class="a" style="left:1027px;top:792px;font-size:10px;line-height:10px;letter-spacing:0.15px;color:#000;transform:scaleX(0.93);transform-origin:0 0">25 Sep 2020</div><div class="a" style="left:1091px;top:792px;font-size:10px;line-height:10px;letter-spacing:0.15px;color:#000;transform:scaleX(0.93);transform-origin:0 0">14 Oct 2020</div><div class="a" style="left:1155px;top:792px;font-size:10px;line-height:10px;letter-spacing:0.15px;color:#000;transform:scaleX(0.93);transform-origin:0 0">2 Nov 2020</div><div class="a" style="left:1219px;top:792px;font-size:10px;line-height:10px;letter-spacing:0.15px;color:#000;transform:scaleX(0.93);transform-origin:0 0">20 Nov 2020</div><div class="a" style="left:16.5px;top:816px;font-size:12px;line-height:10px;letter-spacing:0.12px;color:#6d6d6d">EURUSD,Daily</div><div class="a" style="left:118.5px;top:816px;font-size:12px;line-height:10px;letter-spacing:0.12px;color:#000">USDCHF,Daily</div><div class="a" style="left:219.5px;top:816px;font-size:12px;line-height:10px;letter-spacing:0.12px;color:#6d6d6d">AUDUSD,Daily</div><div class="a" style="left:323.5px;top:816px;font-size:12px;line-height:10px;letter-spacing:0.12px;color:#6d6d6d">USDCAD,Daily</div><div class="a" style="left:426.5px;top:816px;font-size:12px;line-height:10px;letter-spacing:0.12px;color:#6d6d6d">USDCNH,Daily</div><div class="a" style="left:532.5px;top:816px;font-size:12px;line-height:10px;letter-spacing:0.12px;color:#6d6d6d">EURUSD,Daily</div><div class="a" style="left:636.5px;top:816px;font-size:12px;line-height:10px;letter-spacing:0.12px;color:#6d6d6d">GBPUSD,H4</div><div class="a" style="left:727.5px;top:816px;font-size:12px;line-height:10px;letter-spacing:0.12px;color:#6d6d6d">XAUUSD,H1</div><div class="a" style="left:819.5px;top:816px;font-size:12px;line-height:10px;letter-spacing:0.12px;color:#6d6d6d">HK50,H1</div><div class="a" style="left:891.5px;top:816px;font-size:12px;line-height:10px;letter-spacing:0.12px;color:#6d6d6d">UK100,H1</div><div class="a" style="left:971.5px;top:816px;font-size:12px;line-height:10px;letter-spacing:0.12px;color:#6d6d6d">UK100,H1</div><div class="a" style="left:1051.5px;top:816px;font-size:12px;line-height:10px;letter-spacing:0.12px;color:#6d6d6d">GER30,H1</div><div class="a" style="left:1130.5px;top:816px;font-size:12px;line-height:10px;letter-spacing:0.12px;color:#6d6d6d">FRA40,H1</div><div class="a" style="left:1206.5px;top:816px;font-size:12px;line-height:10px;letter-spacing:0.12px;color:#6d6d6d">USOil,Daily</div><div class="a" style="left:1290.5px;top:816px;font-size:12px;line-height:10px;letter-spacing:0.12px;color:#6d6d6d">USDJPY,H1</div><div class="a" style="left:1374.5px;top:816px;font-size:12px;line-height:10px;letter-spacing:0.12px;color:#6d6d6d">DJ30,Daily</div><div class="a" style="left:1454.5px;top:816px;font-size:12px;line-height:10px;letter-spacing:0.12px;color:#6d6d6d">CHINA300,H1</div><div class="a" style="left:1554.5px;top:816px;font-size:12px;line-height:10px;letter-spacing:0.12px;color:#6d6d6d">USOil,H1</div></body></html>
